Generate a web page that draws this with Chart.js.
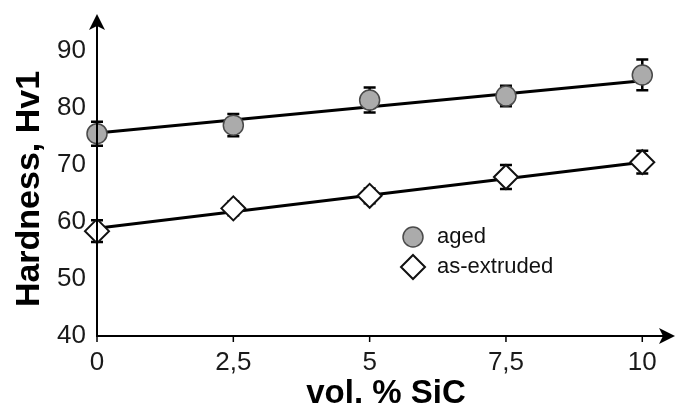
<!DOCTYPE html>
<html>
<head>
<meta charset="utf-8">
<script src="https://cdn.jsdelivr.net/npm/chart.js@4/dist/chart.umd.min.js"></script>
<style>
  html, body { margin: 0; padding: 0; background: #fff; }
  #wrap { width: 689px; height: 410px; }
</style>
</head>
<body>
<div id="wrap"><canvas id="myChart"></canvas></div>
<script>
// data
const sicContent = [0, 2.5, 5, 7.5, 10];
const agedHardness = [75.5, 77.0, 81.4, 82.1, 85.8];
const agedError = [2.1, 1.95, 2.2, 1.8, 2.7];
const extrudedHardness = [58.4, 62.4, 64.6, 67.9, 70.5];
const extrudedError = [1.9, 1.2, 1.3, 2.1, 2.0];
const trendX = [0, 10];
const agedTrend = [75.6, 84.8];
const extrudedTrend = [58.9, 70.5];
const xTicks = [0, 2.5, 5, 7.5, 10];
const xTickLabels = ['0', '2,5', '5', '7,5', '10'];
const yTicks = [40, 50, 60, 70, 80, 90];

const toPoints = (xs, ys) => xs.map((x, i) => ({ x: x, y: ys[i] }));

// error bars, axes with arrows, y title and legend
const extras = {
    id: 'extras',
    beforeDatasetsDraw(chart) {
        const ctx = chart.ctx, xs = chart.scales.x, ys = chart.scales.y;
        ctx.save();
        ctx.strokeStyle = '#000';
        ctx.lineWidth = 2.5;
        chart.data.datasets.forEach(ds => {
            if (!ds.errors) return;
            ds.data.forEach((p, i) => {
                const px = xs.getPixelForValue(p.x);
                const top = ys.getPixelForValue(p.y + ds.errors[i]);
                const bot = ys.getPixelForValue(p.y - ds.errors[i]);
                ctx.beginPath();
                ctx.moveTo(px, top); ctx.lineTo(px, bot);
                ctx.moveTo(px - 6, top); ctx.lineTo(px + 6, top);
                ctx.moveTo(px - 6, bot); ctx.lineTo(px + 6, bot);
                ctx.stroke();
            });
        });
        ctx.restore();
    },
    afterDraw(chart) {
        const ctx = chart.ctx, a = chart.chartArea, xs = chart.scales.x;
        ctx.save();
        ctx.strokeStyle = '#000';
        ctx.fillStyle = '#000';
        ctx.lineWidth = 2;
        // axes
        ctx.beginPath();
        ctx.moveTo(a.left, a.top + 10); ctx.lineTo(a.left, a.bottom);
        ctx.lineTo(a.right - 10, a.bottom);
        ctx.stroke();
        ctx.beginPath();
        ctx.moveTo(a.left, a.top); ctx.lineTo(a.left - 8, a.top + 16); ctx.lineTo(a.left, a.top + 12); ctx.lineTo(a.left + 8, a.top + 16);
        ctx.closePath(); ctx.fill();
        ctx.beginPath();
        ctx.moveTo(a.right, a.bottom); ctx.lineTo(a.right - 16, a.bottom - 8); ctx.lineTo(a.right - 12, a.bottom); ctx.lineTo(a.right - 16, a.bottom + 8);
        ctx.closePath(); ctx.fill();
        // x tick marks
        ctx.lineWidth = 1.5;
        xTicks.forEach(v => {
            const px = xs.getPixelForValue(v);
            ctx.beginPath(); ctx.moveTo(px, a.bottom); ctx.lineTo(px, a.bottom + 6); ctx.stroke();
        });
        // y title
        ctx.font = 'bold 34px "Liberation Sans", Arial, sans-serif';
        ctx.textAlign = 'center';
        ctx.textBaseline = 'middle';
        ctx.translate(30, 189);
        ctx.rotate(-Math.PI / 2);
        ctx.fillText('Hardness, Hv1', 0, 0);
        ctx.restore();

        // legend
        ctx.save();
        ctx.font = '22px "Liberation Sans", Arial, sans-serif';
        ctx.textBaseline = 'middle';
        ctx.fillStyle = '#111';
        chart.data.datasets.filter(ds => ds.errors).forEach((ds, i) => {
            const cx = 413, cy = 237 + i * 30;
            ctx.beginPath();
            if (ds.pointStyle === 'circle') {
                ctx.arc(cx, cy, 10, 0, Math.PI * 2);
            } else {
                ctx.moveTo(cx, cy - 12); ctx.lineTo(cx + 12, cy); ctx.lineTo(cx, cy + 12); ctx.lineTo(cx - 12, cy);
                ctx.closePath();
            }
            ctx.fillStyle = ds.pointBackgroundColor;
            ctx.fill();
            ctx.strokeStyle = ds.pointBorderColor;
            ctx.lineWidth = ds.pointBorderWidth;
            ctx.stroke();
            ctx.fillStyle = '#111';
            ctx.fillText(ds.label, 437, cy);
        });
        ctx.restore();
    }
};

const noPad = s => { s.paddingTop = 0; s.paddingBottom = 0; s.paddingLeft = 0; s.paddingRight = 0; };

const ctx = document.getElementById('myChart').getContext('2d');
const chart = new Chart(ctx, {
    type: 'scatter',
    data: {
        datasets: [{
            label: 'aged',
            data: toPoints(sicContent, agedHardness),
            errors: agedError,
            pointStyle: 'circle',
            pointRadius: 10,
            pointHoverRadius: 10,
            pointBackgroundColor: '#ababab',
            pointBorderColor: '#4a4a4a',
            pointBorderWidth: 1.5,
            showLine: false
        }, {
            label: 'as-extruded',
            data: toPoints(sicContent, extrudedHardness),
            errors: extrudedError,
            pointStyle: 'rectRot',
            pointRadius: 12,
            pointHoverRadius: 12,
            pointBackgroundColor: '#ffffff',
            pointBorderColor: '#111111',
            pointBorderWidth: 2,
            showLine: false
        }, {
            label: 'aged fit',
            data: toPoints(trendX, agedTrend),
            showLine: true,
            borderColor: '#000',
            borderWidth: 3,
            pointRadius: 0,
            tension: 0
        }, {
            label: 'as-extruded fit',
            data: toPoints(trendX, extrudedTrend),
            showLine: true,
            borderColor: '#000',
            borderWidth: 3,
            pointRadius: 0,
            tension: 0
        }]
    },
    options: {
        responsive: true,
        maintainAspectRatio: false,
        animation: false,
        clip: false,
        layout: { padding: { top: 10, right: 12, left: 0, bottom: 0 } },
        plugins: {
            legend: { display: false },
            tooltip: { enabled: false }
        },
        scales: {
            x: {
                type: 'linear',
                min: 0,
                max: 10.6,
                grid: { display: false, drawTicks: false },
                border: { display: false },
                afterFit: s => { s.height = 74; noPad(s); },
                afterBuildTicks: s => { s.ticks = xTicks.map(v => ({ value: v })); },
                ticks: {
                    padding: 11,
                    color: '#1a1a1a',
                    font: { family: '"Liberation Sans", Arial, sans-serif', size: 26 },
                    callback: v => xTickLabels[xTicks.indexOf(v)]
                },
                title: {
                    display: true,
                    text: 'vol. % SiC',
                    color: '#000',
                    padding: 0,
                    font: { family: '"Liberation Sans", Arial, sans-serif', size: 33, weight: 'bold', lineHeight: 1.0 }
                }
            },
            y: {
                min: 40,
                max: 96.5,
                grid: { display: false, drawTicks: false },
                border: { display: false },
                afterFit: s => { s.width = 97; noPad(s); },
                afterBuildTicks: s => { s.ticks = yTicks.map(v => ({ value: v })); },
                ticks: {
                    padding: 11,
                    color: '#1a1a1a',
                    font: { family: '"Liberation Sans", Arial, sans-serif', size: 26 }
                }
            }
        }
    },
    plugins: [extras]
});
</script>
</body>
</html>
